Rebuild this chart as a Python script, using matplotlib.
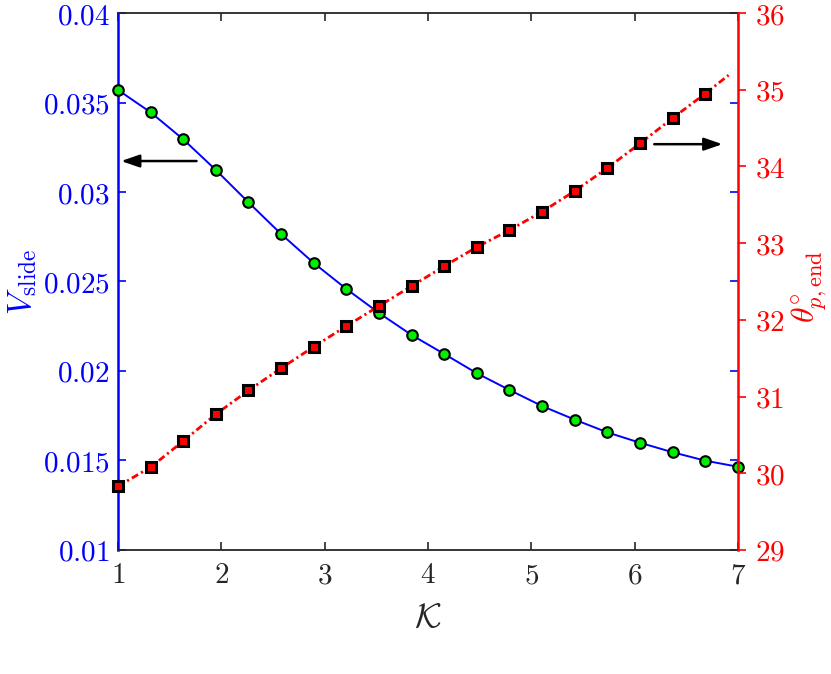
import matplotlib
matplotlib.use("Agg")
import matplotlib.pyplot as plt

# ── Data ──────────────────────────────────────────────────────────────────────
kappa = [1.000, 1.316, 1.632, 1.947, 2.263, 2.579, 2.895, 3.211, 3.526, 3.842,
         4.158, 4.474, 4.789, 5.105, 5.421, 5.737, 6.053, 6.368, 6.684, 7.000]
v_slide = [0.0357, 0.03445, 0.03294, 0.03123, 0.02942, 0.02765, 0.02603,
           0.02458, 0.02324, 0.02201, 0.02095, 0.01987, 0.01894, 0.01804,
           0.01728, 0.01657, 0.01599, 0.01546, 0.01499, 0.01465]

kappa_theta = [1.000, 1.316, 1.632, 1.947, 2.263, 2.579, 2.895, 3.211, 3.526,
               3.842, 4.158, 4.474, 4.789, 5.105, 5.421, 5.737, 6.053, 6.368,
               6.684, 6.91]
theta_end = [29.83, 30.08, 30.42, 30.77, 31.08, 31.37, 31.65, 31.92, 32.18,
             32.44, 32.70, 32.95, 33.17, 33.41, 33.68, 33.98, 34.30, 34.63,
             34.95, 35.19]

x_ticks = [1, 2, 3, 4, 5, 6, 7]
left_ticks = [0.01, 0.015, 0.02, 0.025, 0.03, 0.035, 0.04]
left_labels = ["0.01", "0.015", "0.02", "0.025", "0.03", "0.035", "0.04"]
right_ticks = [29, 30, 31, 32, 33, 34, 35, 36]

BLUE = "#0000ff"
RED = "#ff0000"
GRAY = "#262626"
FS = 21

plt.rcParams["mathtext.fontset"] = "cm"
plt.rcParams["font.family"] = "serif"
plt.rcParams["font.serif"] = ["DejaVu Serif"]

fig = plt.figure(figsize=(8.31, 6.74), dpi=100)
ax = fig.add_axes([0.142, 0.184, 0.746, 0.7967])
ax2 = ax.twinx()

# ── Left axis: V_slide ────────────────────────────────────────────────────────
ax.plot(kappa, v_slide, color=BLUE, lw=1.4, marker="o", ms=7.6,
        mfc="#00ee00", mec="black", mew=1.5, clip_on=False, zorder=3)
ax.set_xlim(1, 7)
ax.set_ylim(0.01, 0.04)
ax.set_xticks(x_ticks)
ax.set_xticklabels([f"${t}$" for t in x_ticks], fontsize=FS, color=GRAY)
ax.set_yticks(left_ticks)
ax.set_yticklabels([f"${t}$" for t in left_labels], fontsize=FS, color=BLUE)
ax.tick_params(axis="x", direction="in", top=True, length=6, width=1.2,
               color=GRAY, pad=8)
ax.tick_params(axis="y", direction="in", right=True, length=6, width=1.2,
               color=BLUE, pad=6)
ax.set_xlabel(r"$\mathcal{K}$", fontsize=25, color=GRAY)
ax.xaxis.set_label_coords(0.5, -0.092)
ax.set_ylabel(r"$V_{\mathrm{slide}}$", fontsize=24, color=BLUE)
ax.yaxis.set_label_coords(-0.128, 0.5)
for side in ("top", "bottom"):
    ax.spines[side].set_color(GRAY)
    ax.spines[side].set_linewidth(1.3)
ax.spines["left"].set_color(BLUE)
ax.spines["left"].set_linewidth(1.8)
ax.spines["right"].set_visible(False)

# ── Right axis: theta_end ─────────────────────────────────────────────────────
ax2.plot(kappa_theta, theta_end, color=RED, lw=2, ls=(0, (2.6, 1.2, 0.8, 1.2)),
         zorder=3, clip_on=False)
ax2.plot(kappa_theta[:-1], theta_end[:-1], ls="none", marker="s", ms=6.6,
         mfc=RED, mec="black", mew=2.2, clip_on=False, zorder=4)
ax2.set_ylim(29, 36)
ax2.set_yticks(right_ticks)
ax2.set_yticklabels([f"${t}$" for t in right_ticks], fontsize=FS, color=RED)
ax2.tick_params(axis="y", direction="out", length=6, width=1.2, color=RED,
                pad=6)
ax2.set_ylabel(r"$\theta^{\circ}_{p,\mathrm{end}}$", fontsize=23, color=RED)
ax2.yaxis.set_label_coords(1.084, 0.49)
for side in ("left", "top", "bottom"):
    ax2.spines[side].set_visible(False)
ax2.spines["right"].set_color(RED)
ax2.spines["right"].set_linewidth(1.8)

# ── Arrows pointing to each axis ──────────────────────────────────────────────
arrow = dict(arrowstyle="-|>,head_length=1.1,head_width=0.38", color="black",
             lw=1.8, shrinkA=0, shrinkB=0)
ax.annotate("", xy=(1.03, 0.03173), xytext=(1.76, 0.03173),
            arrowprops=arrow, zorder=5)
ax2.annotate("", xy=(6.85, 34.29), xytext=(6.19, 34.29),
             arrowprops=arrow, zorder=5)

fig.savefig("out.png", dpi=100)
